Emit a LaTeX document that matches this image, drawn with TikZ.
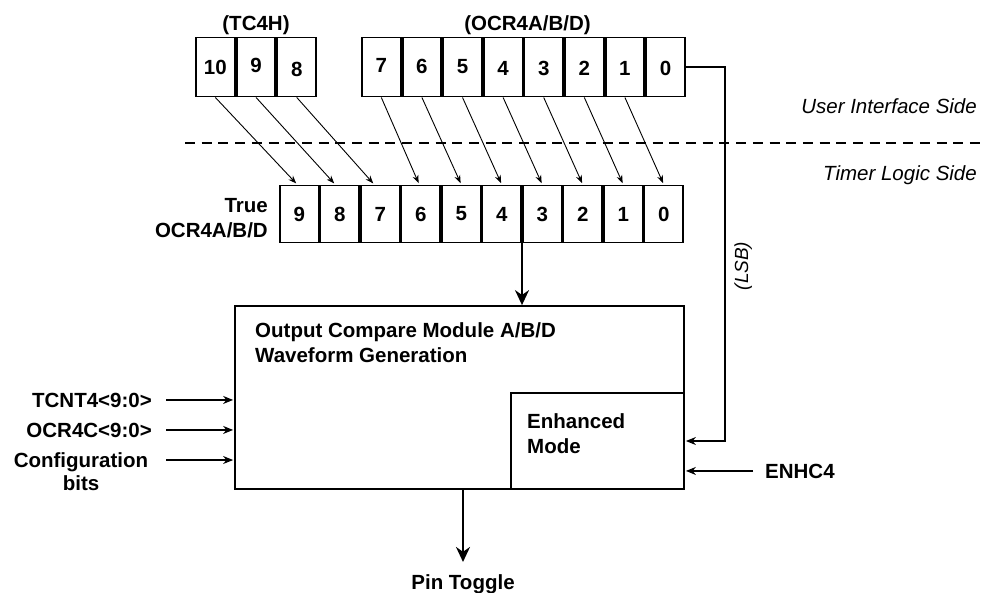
\documentclass[tikz,border=0pt]{standalone}
\usepackage{fontspec}
\setmainfont{Liberation Sans}
\usetikzlibrary{arrows.meta,calc}
\newcommand\lowered[2]{\raisebox{-#1pt}[14.7pt][0pt]{#2}}
\begin{document}
\begin{tikzpicture}[x=1pt,y=-1pt,
  txt/.style={font=\fontsize{20.5}{24.5}\selectfont\bfseries, inner sep=0pt},
  side/.style={font=\fontsize{20.5}{24.5}\selectfont\itshape, inner sep=0pt},
  topcell/.style={draw, line width=1.9pt, minimum width=38.7pt, minimum height=59pt, inner sep=0pt,
    font=\fontsize{20.5}{24.5}\selectfont\bfseries},
  botcell/.style={draw, line width=1.9pt, minimum width=38.6pt, minimum height=57pt, inner sep=0pt,
    font=\fontsize{20.5}{24.5}\selectfont\bfseries},
  bigbox/.style={draw, line width=1.8pt, inner sep=0pt},
  diag/.style={line width=0.9pt, -{Stealth[length=8pt,width=6pt]}, shorten >=1.5pt},
  inarr/.style={line width=1.1pt, -{Stealth[length=10pt,width=8pt]}, shorten >=1pt},
  bigarr/.style={line width=2pt, -{Stealth[length=15pt,width=14pt]}},
  sep/.style={line width=1.5pt, dash pattern=on 10pt off 6.7pt}
]
\useasboundingbox (0,0) rectangle (981,592);

% top register cells
\node[topcell] (t10) at (215.35,67) {\lowered{0.5}{10}};
\node[topcell] (t9)  at (256.05,67) {\lowered{-1.5}{9}};
\node[topcell] (t8)  at (296.75,67) {\lowered{2.5}{8}};
\node[topcell] (t7)  at (381.3,67) {\lowered{-2}{7}};
\node[topcell] (t6)  at (421.9,67) {\lowered{-0.5}{6}};
\node[topcell] (t5)  at (462.5,67) {\lowered{-0.5}{5}};
\node[topcell] (t4)  at (503.1,67) {\lowered{1}{4}};
\node[topcell] (t3)  at (543.7,67) {\lowered{1}{3}};
\node[topcell] (t2)  at (584.3,67) {\lowered{1}{2}};
\node[topcell] (t1)  at (624.9,67) {\lowered{1}{1}};
\node[topcell] (t0)  at (665.5,67) {\lowered{1}{0}};

\node[txt, anchor=base] (tc4h) at (256,30) {(TC4H)};
\node[txt, anchor=base] (ocrlab) at (527.5,30) {(OCR4A/B/D)};

% bottom register cells
\node[botcell] (b9) at (299.25,214) {9};
\node[botcell] (b8) at (339.75,214) {8};
\node[botcell] (b7) at (380.25,214) {7};
\node[botcell] (b6) at (420.75,214) {6};
\node[botcell] (b5) at (461.25,214) {5};
\node[botcell] (b4) at (501.75,214) {4};
\node[botcell] (b3) at (542.25,214) {3};
\node[botcell] (b2) at (582.75,214) {2};
\node[botcell] (b1) at (623.25,214) {1};
\node[botcell] (b0) at (663.75,214) {0};

\node[txt, anchor=base east] (truelab) at (268,212) {True};
\node[txt, anchor=base east] (truelab2) at (268,237) {OCR4A/B/D};

% separator
\draw[sep] (185,143) -- (981,143);
\node[side, anchor=base east] (uis) at (977,113) {User Interface Side};
\node[side, anchor=base east] (tls) at (977,180) {Timer Logic Side};

% diagonal mapping arrows
\draw[diag] (t10.south) -- ([xshift=-2pt]b9.north);
\draw[diag] (t9.south) -- ([xshift=-4.5pt]b8.north);
\draw[diag] (t8.south) -- ([xshift=-6pt]b7.north);
\draw[diag] (t7.south) -- ([xshift=-1.5pt]b6.north);
\draw[diag] (t6.south) -- (b5.north);
\draw[diag] (t5.south) -- (b4.north);
\draw[diag] (t4.south) -- (b3.north);
\draw[diag] (t3.south) -- (b2.north);
\draw[diag] (t2.south) -- (b1.north);
\draw[diag] (t1.south) -- (b0.north);

% main block
\node[bigbox, minimum width=449pt, minimum height=183pt] (main) at (459.5,397.5) {};
\node[bigbox, fill=white, minimum width=173pt, minimum height=96pt] (enh) at (597.5,441) {};
\node[txt, anchor=base west] (mt1) at (255,337) {Output Compare Module A/B/D};
\node[txt, anchor=base west] (mt2) at (255,362) {Waveform Generation};
\node[txt, anchor=base west] (et1) at (527,428) {Enhanced};
\node[txt, anchor=base west] (et2) at (527,453) {Mode};

% register to main
\draw[bigarr] (b4.south east) -- (b4.south east |- main.north);

% LSB path
\coordinate (lsbc) at (725,67);
\draw[inarr] (t0.east) -- (lsbc) |- (enh.east);
\node[side, font=\fontsize{19}{23}\selectfont\itshape, rotate=90, anchor=base] (lsb) at (748,266) {(LSB)};

% ENHC4
\node[txt, anchor=base west] (enhc) at (765,478) {ENHC4};
\draw[inarr] ([xshift=-12pt]enhc.west) -- (enh.east |- enhc.west);

% inputs
\node[txt, anchor=base east] (tcnt) at (152,407) {TCNT4<9:0>};
\node[txt, anchor=base east] (ocrc) at (152,437) {OCR4C<9:0>};
\node[txt, anchor=base] (cfg1) at (81,467) {Configuration};
\node[txt, anchor=base] (cfg2) at (81,490) {bits};
\coordinate (cfgin) at (166,460);
\draw[inarr] ([xshift=14pt]tcnt.east) -- (main.west |- tcnt.east);
\draw[inarr] ([xshift=14pt]ocrc.east) -- (main.west |- ocrc.east);
\draw[inarr] (cfgin) -- (main.west |- cfgin);

% output
\node[txt, anchor=base] (pin) at (463,589) {Pin Toggle};
\draw[bigarr] (main.south -| pin) -- ([yshift=12pt]pin.north);
\end{tikzpicture}
\end{document}
